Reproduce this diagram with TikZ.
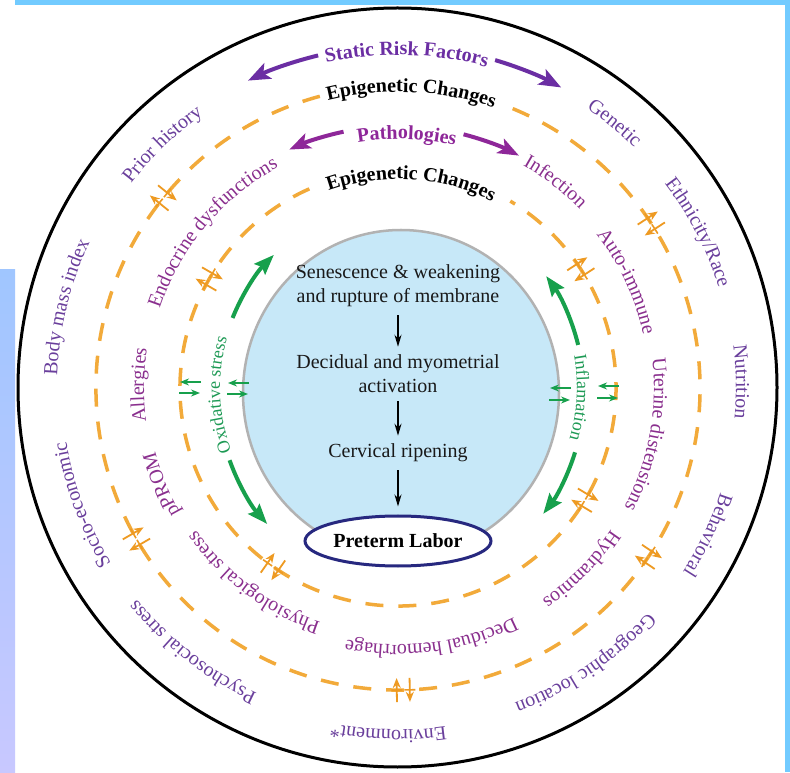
\documentclass[tikz,border=0pt]{standalone}
\usepackage{fontspec}
\setmainfont{Liberation Serif}
\usetikzlibrary{arrows.meta,decorations.text,shapes.geometric,calc}
\definecolor{outc}{HTML}{6A3F9C}
\definecolor{midc}{HTML}{8A2F8E}
\definecolor{statc}{HTML}{6B2EA3}
\definecolor{pathc}{HTML}{8E2799}
\definecolor{orng}{HTML}{F2AA3A}
\definecolor{orarr}{HTML}{EE9A22}
\definecolor{grn}{HTML}{17A04C}
\definecolor{grntext}{HTML}{1E9A55}
\definecolor{ltblue}{HTML}{C7E8F8}
\definecolor{navyc}{HTML}{27287F}
\definecolor{frameblue}{HTML}{72CBFF}
\definecolor{leftA}{HTML}{A0C6FF}
\definecolor{leftB}{HTML}{C8C8FF}
\newcommand\curvlab[6]{%
  \path[decorate,decoration={text along path,text align=center,text color=#4,text={|#5|#6}}]
    (C) ++({#2+#3}:#1) arc[start angle={#2+#3},end angle={#2-#3},radius=#1];}
\newcommand\fsz{\fontsize{20}{24}\selectfont}
\newcommand\gsz{\fontsize{18}{22}\selectfont}
\begin{document}
\begin{tikzpicture}[x=1pt,y=1pt,
  dashring/.style={orng,line width=3.5pt,dash pattern=on 18pt off 15pt},
  ctext/.style={align=center,font=\fsz,inner sep=0pt,text=black!90},
  darr/.style={-{Stealth[length=12pt,width=7pt]},line width=1.5pt,shorten <=8pt,shorten >=8pt},
  orarrow/.style={orarr,line width=1.8pt,-{Stealth[length=10pt,width=8pt]}},
  orbar/.style={orarr,line width=1.6pt},
  gsmall/.style={grn,line width=2pt,-{Stealth[length=9pt,width=7pt]}},
  garc/.style={grn,line width=4pt,-{Stealth[length=20pt,width=15pt,inset=3pt]}},
  sarrow/.style={statc,line width=4pt,-{Stealth[length=22pt,width=17pt,inset=5pt]}},
  parrow/.style={pathc,line width=4pt,-{Stealth[length=21pt,width=16pt,inset=5pt]}}]
\useasboundingbox (0,0) rectangle (790,772);
\fill[white] (0,0) rectangle (790,772);
% frame strips
\fill[frameblue] (15,767) rectangle (790,772);
\fill[frameblue] (785,0) rectangle (790,772);
\shade[top color=leftA,bottom color=leftB] (0,0) rectangle (15,502);
\coordinate (C) at (398,384);
\coordinate (E) at (401,379);
% outer circle
\draw[line width=3pt] (397.5,384.5) circle[radius=379.5];
% dashed rings
\draw[dashring] (C) ++(105:302) arc[start angle=105,end angle=429,radius=302];
\draw[dashring] (C) ++(114:218) arc[start angle=114,end angle=419,radius=218];
% central blue ellipse
\draw[fill=ltblue,draw=black!30,line width=2.5pt] (E) ellipse[x radius=158,y radius=163];
% central flow
\node[ctext] (n1) at (398,486) {Senescence \& weakening\\and rupture of membrane};
\node[ctext] (n2) at (398,398) {Decidual and myometrial\\activation};
\node[ctext] (n3) at (398,319) {Cervical ripening};
\node[ellipse,draw=navyc,fill=white,line width=3pt,minimum width=186pt,minimum height=50pt,inner sep=0pt,font=\bfseries\fsz] (pl) at (398,231) {Preterm Labor};
\draw[darr] (n1) -- (n2);
\draw[darr] (n2) -- (n3);
\draw[darr] (n3) -- (pl);
% top headings
\curvlab{333}{88.5}{50}{statc}{\bfseries\fsz}{Static Risk Factors}
\curvlab{296}{87.4}{50}{black}{\bfseries\fsz}{Epigenetic Changes}
\curvlab{249}{88}{50}{pathc}{\bfseries\fsz}{Pathologies}
\curvlab{209}{86.3}{55}{black}{\bfseries\fsz}{Epigenetic Changes}
\draw[sarrow] (C) ++(103.5:342) arc[start angle=103.5,end angle=116,radius=342];
\draw[sarrow] (C) ++(73.5:342) arc[start angle=73.5,end angle=61.5,radius=342];
\draw[parrow] (C) ++(102:262) arc[start angle=102,end angle=114.5,radius=262];
\draw[parrow] (C) ++(75.5:262) arc[start angle=75.5,end angle=62.5,radius=262];
% outer ring labels
\curvlab{337}{50.7}{45}{outc}{\fsz}{Genetic}
\curvlab{336}{27.4}{45}{outc}{\fsz}{Ethnicity/Race}
\curvlab{338}{1}{45}{outc}{\fsz}{Nutrition}
\curvlab{339}{-25.4}{45}{outc}{\fsz}{Behavioral}
\curvlab{336}{-55.8}{45}{outc}{\fsz}{Geographic location}
\curvlab{342}{-91.6}{45}{outc}{\fsz}{Environment*}
\curvlab{336}{-127.9}{45}{outc}{\fsz}{Psychosocial stress}
\curvlab{336}{-159.7}{45}{outc}{\fsz}{Socio-economic}
\curvlab{341}{166.3}{45}{outc}{\fsz}{Body mass index}
\curvlab{336}{134}{45}{outc}{\fsz}{Prior history}
% middle ring labels
\curvlab{255}{52.6}{55}{midc}{\fsz}{Infection}
\curvlab{251}{25}{55}{midc}{\fsz}{Auto-immune}
\curvlab{256}{-10.7}{55}{midc}{\fsz}{Uterine distensions}
\curvlab{256}{-44.7}{55}{midc}{\fsz}{Hydramnios}
\curvlab{257}{-82.4}{55}{midc}{\fsz}{Decidual hemorrhage}
\curvlab{247}{-126.6}{55}{midc}{\fsz}{Physiological stress}
\curvlab{251}{-157.8}{55}{midc}{\fsz}{pPROM}
\curvlab{254}{179.3}{55}{midc}{\fsz}{Allergies}
\curvlab{251}{140}{55}{midc}{\fsz}{Endocrine dysfunctions}
% green labels and arcs
\curvlab{178}{182.2}{50}{grntext}{\gsz}{Oxidative stress}
\curvlab{179}{-3.1}{50}{grntext}{\gsz}{Inflamation}
\draw[garc] (E) ++(157:183 and 192) arc[start angle=157,end angle=134,x radius=183,y radius=192];
\draw[garc] (E) ++(200.5:183 and 192) arc[start angle=200.5,end angle=223,x radius=183,y radius=192];
\draw[garc] (E) ++(14.5:183 and 192) arc[start angle=14.5,end angle=37.5,x radius=183,y radius=192];
\draw[garc] (E) ++(-18:183 and 192) arc[start angle=-18,end angle=-39,x radius=183,y radius=192];
% green small arrows
\coordinate (gl1a) at (201,390); \coordinate (gl1b) at (180,390);
\coordinate (gl2a) at (179,379); \coordinate (gl2b) at (200,379);
\coordinate (gl3a) at (249,389); \coordinate (gl3b) at (228,389);
\coordinate (gl4a) at (227,378); \coordinate (gl4b) at (248,378);
\coordinate (gr1a) at (571,384); \coordinate (gr1b) at (550,384);
\coordinate (gr2a) at (549,372); \coordinate (gr2b) at (570,372);
\coordinate (gr3a) at (619,386); \coordinate (gr3b) at (598,386);
\coordinate (gr4a) at (597,374); \coordinate (gr4b) at (618,374);
\foreach \p in {gl1,gl2,gl3,gl4,gr1,gr2,gr3,gr4} \draw[gsmall] (\p a) -- (\p b);
% orange arrow pairs on dashed rings
\foreach \R/\ph in {302/141,302/33,302/-34,302/-89,302/-150,218/150,218/33,218/-31,218/-125}{
  \begin{scope}[shift={(C)},rotate=\ph]
    \draw[orbar] (\R,1) -- (\R,12);
    \draw[orbar] (\R,-1) -- (\R,-12);
    \draw[orarrow] (\R-12,6.5) -- (\R+12,6.5);
    \draw[orarrow] (\R+12,-6.5) -- (\R-12,-6.5);
  \end{scope}}
\end{tikzpicture}
\end{document}
